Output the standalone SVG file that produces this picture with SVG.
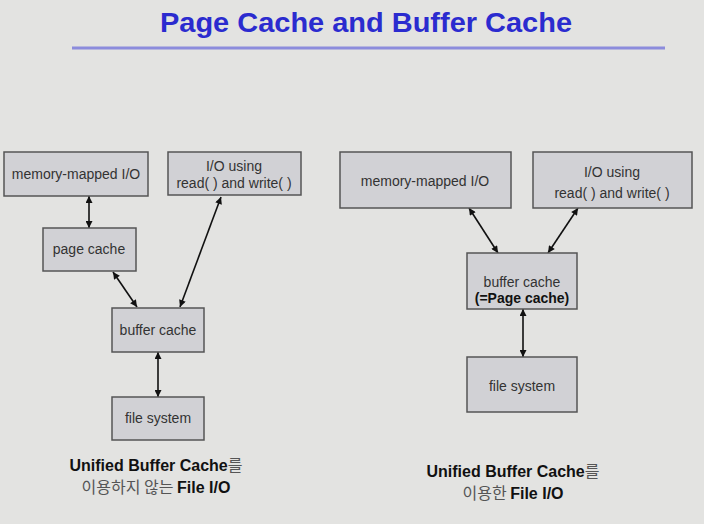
<svg xmlns="http://www.w3.org/2000/svg" width="704" height="524" viewBox="0 0 704 524">
<defs>
<marker id="ah" viewBox="0 0 10 10" refX="10" refY="5" markerWidth="8" markerHeight="7" markerUnits="userSpaceOnUse" orient="auto-start-reverse">
<path d="M0,0 L10,5 L0,10 z" fill="#111"/>
</marker>
<style>
.box{fill:#d1d1d5;stroke:#555;stroke-width:1.5}
.lbl{font-family:"Liberation Sans",Arial,sans-serif;font-size:14px;fill:#333;text-anchor:middle}
.b{font-weight:bold;fill:#111}
.con{stroke:#111;stroke-width:1.6;fill:none;marker-start:url(#ah);marker-end:url(#ah)}
.cap{font-family:"Liberation Sans","Noto Sans CJK KR",sans-serif;font-size:16px;text-anchor:middle;fill:#111;font-weight:bold}
.ko{font-family:"Noto Sans CJK KR",sans-serif;font-weight:normal;fill:#555}
</style>
</defs>
<rect width="704" height="524" fill="#e3e3e1"/>
<text x="366" y="32" font-family="'Liberation Sans',Arial,sans-serif" font-size="28" font-weight="bold" fill="#2b2bcf" text-anchor="middle" textLength="412" lengthAdjust="spacingAndGlyphs">Page Cache and Buffer Cache</text>
<line x1="72" y1="48" x2="665" y2="48" stroke="#8c8cdc" stroke-width="3"/>

<g id="connectors">
<line class="con" x1="89" y1="196" x2="89" y2="228"/>
<line class="con" x1="113" y1="272" x2="137" y2="307"/>
<line class="con" x1="221" y1="197" x2="180" y2="307"/>
<line class="con" x1="158" y1="352" x2="158" y2="397"/>
<line class="con" x1="469" y1="208" x2="498" y2="253"/>
<line class="con" x1="578" y1="208" x2="548" y2="253"/>
<line class="con" x1="523" y1="309" x2="523" y2="357"/>
</g>

<g id="l-mmio"><rect class="box" x="4" y="152" width="144" height="44"/><text class="lbl" x="76" y="179">memory-mapped I/O</text></g>
<g id="l-rw"><rect class="box" x="168" y="152" width="133" height="43"/><text class="lbl" x="234" y="171">I/O using</text><text class="lbl" x="234" y="188">read( ) and write( )</text></g>
<g id="l-page"><rect class="box" x="43" y="228" width="93" height="43"/><text class="lbl" x="89" y="254">page cache</text></g>
<g id="l-buf"><rect class="box" x="112" y="308" width="92" height="44"/><text class="lbl" x="158" y="335">buffer cache</text></g>
<g id="l-fs"><rect class="box" x="112" y="397" width="92" height="43"/><text class="lbl" x="158" y="423">file system</text></g>

<g id="r-mmio"><rect class="box" x="340" y="152" width="171" height="56"/><text class="lbl" x="425" y="186">memory-mapped I/O</text></g>
<g id="r-rw"><rect class="box" x="533" y="152" width="159" height="56"/><text class="lbl" x="612" y="177">I/O using</text><text class="lbl" x="612" y="198">read( ) and write( )</text></g>
<g id="r-buf"><rect class="box" x="467" y="253" width="110" height="56"/><text class="lbl" x="522" y="287">buffer cache</text><text class="lbl b" x="522" y="303">(=Page cache)</text></g>
<g id="r-fs"><rect class="box" x="467" y="357" width="110" height="55"/><text class="lbl" x="522" y="391">file system</text></g>

<text class="cap" x="156" y="471">Unified Buffer Cache<tspan class="ko">를</tspan></text>
<text class="cap" x="156" y="493"><tspan class="ko">이용하지 않는 </tspan>File I/O</text>
<text class="cap" x="513" y="477">Unified Buffer Cache<tspan class="ko">를</tspan></text>
<text class="cap" x="513" y="499"><tspan class="ko">이용한 </tspan>File I/O</text>
</svg>
